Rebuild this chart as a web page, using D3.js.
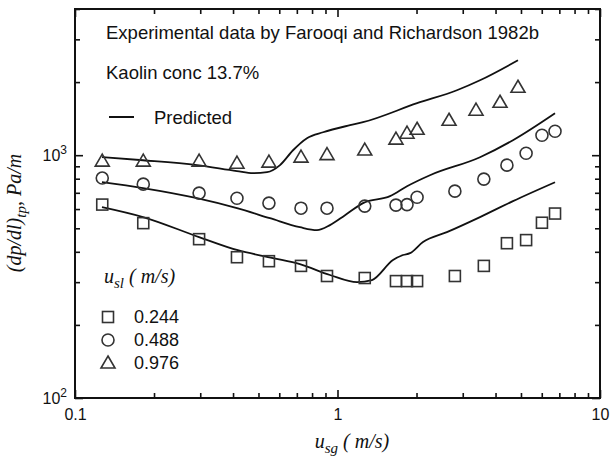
<!DOCTYPE html>
<html><head><meta charset="utf-8">
<script src="https://cdn.jsdelivr.net/npm/d3@7"></script>
<style>body{margin:0;background:#fff}svg{display:block}</style>
</head><body><svg id="c" width="611" height="467"></svg>
<script>
// ---- data (u_sg in m/s, pressure gradient in Pa/m) ----
const sqX = [0.127,0.182,0.297,0.414,0.548,0.726,0.912,1.27,1.67,1.84,2.01,2.80,3.61,4.42,5.23,6.01,6.74];
const sqY = [626,525,451,380,366,350,318,312,303,303,303,318,350,434,447,527,575];
const ciX = [0.127,0.182,0.297,0.414,0.548,0.726,0.912,1.27,1.67,1.84,2.01,2.80,3.61,4.42,5.23,6.01,6.74];
const ciY = [805,760,698,665,635,605,605,617,623,626,671,711,797,910,1019,1208,1255];
const trX = [0.127,0.182,0.297,0.414,0.548,0.726,0.912,1.27,1.67,1.84,2.01,2.66,3.37,4.16,4.87];
const trY = [945,945,945,927,936,982,1005,1050,1164,1232,1279,1393,1532,1652,1905];

const predLowX = [0.1267,0.1816,0.2968,0.417,0.568,0.719,0.936,1.187,1.353,1.627,1.777,1.889,2.117,2.61,3.49,4.66,6.74];
const predLowY = [611,556,460,406,377,356,321,300,306,370,388,395,439,482,556,647,774];
const predMidX = [0.1267,0.1816,0.2915,0.414,0.553,0.719,0.835,0.936,1.068,1.251,1.585,1.84,2.25,3.49,4.66,6.74];
const predMidY = [774,732,665,605,550,505,491,515,566,635,678,745,827,981,1153,1489];
const predTopX = [0.1267,0.1816,0.2915,0.414,0.4766,0.539,0.604,0.677,0.765,0.881,1.116,1.251,2.01,2.85,3.49,4.87];
const predTopY = [981,953,910,860,843,851,910,1048,1175,1243,1329,1367,1637,1851,2035,2460];

const xMajor = [0.1,1,10];
const xMajorLabels = ["0.1","1","10"];
const yMajor = [100,1000];
const yMajorExp = ["2","3"];
const legendLabels = ["0.244","0.488","0.976"];

// ---- drawing ----
const svg = d3.select("#c");
const L = 75, R = 600, T = 9, B = 398;
const x = d3.scaleLog().domain([0.1,10]).range([L,R]);
const y = d3.scaleLog().domain([100,4000]).range([B,T]);

const xMinor = [];
for (let d of [0.1,1]) for (let k=2;k<=9;k++) xMinor.push(d*k);
const yMinor = [];
for (let d of [100,1000]) for (let k=2;k<=9;k++) if (d*k<=4000) yMinor.push(d*k);

const axisStyle = g => { g.select(".domain").remove(); g.selectAll(".tick line").attr("stroke","#111").attr("stroke-width",1.6); };

// bottom
svg.append("g").attr("transform",`translate(0,${B})`)
  .call(d3.axisBottom(x).tickValues(xMajor).tickSize(-8).tickPadding(11).tickFormat((d,i)=>xMajorLabels[i]))
  .call(axisStyle)
  .call(g=>g.selectAll("text").attr("font-family","Liberation Sans, Arial, sans-serif").attr("font-size",16).attr("fill","#111"));
svg.append("g").attr("transform",`translate(0,${B})`)
  .call(d3.axisBottom(x).tickValues(xMinor).tickSize(-5).tickFormat(""))
  .call(axisStyle);
// top
svg.append("g").attr("transform",`translate(0,${T})`)
  .call(d3.axisTop(x).tickValues(xMajor).tickSize(-8).tickFormat(""))
  .call(axisStyle);
svg.append("g").attr("transform",`translate(0,${T})`)
  .call(d3.axisTop(x).tickValues(xMinor).tickSize(-5).tickFormat(""))
  .call(axisStyle);
// left
const leftMajor = svg.append("g").attr("transform",`translate(${L},0)`)
  .call(d3.axisLeft(y).tickValues(yMajor).tickSize(-8).tickPadding(8).tickFormat(()=>"" ))
  .call(axisStyle);
leftMajor.selectAll(".tick text").each(function(d,i){
  const t = d3.select(this).attr("font-family","Liberation Sans, Arial, sans-serif").attr("font-size",16).attr("fill","#111");
  t.append("tspan").text("10");
  t.append("tspan").attr("dy",-7).attr("font-size",12).text(yMajorExp[i]);
});
svg.append("g").attr("transform",`translate(${L},0)`)
  .call(d3.axisLeft(y).tickValues(yMinor).tickSize(-5).tickFormat(""))
  .call(axisStyle);
// right
svg.append("g").attr("transform",`translate(${R},0)`)
  .call(d3.axisRight(y).tickValues(yMajor).tickSize(-8).tickFormat(""))
  .call(axisStyle);
svg.append("g").attr("transform",`translate(${R},0)`)
  .call(d3.axisRight(y).tickValues(yMinor).tickSize(-5).tickFormat(""))
  .call(axisStyle);

// frame
svg.append("rect").attr("x",L).attr("y",T).attr("width",R-L).attr("height",B-T)
  .attr("fill","none").attr("stroke","#111").attr("stroke-width",2);

// predicted curves
const line = d3.line().x(d=>x(d[0])).y(d=>y(d[1])).curveMonotoneX ? null : null;
const mk = d3.line().x(d=>x(d[0])).y(d=>y(d[1])).curve(d3.curveMonotoneX);
[[predLowX,predLowY],[predMidX,predMidY],[predTopX,predTopY]].forEach(([xs,ys])=>{
  svg.append("path").attr("d",mk(xs.map((v,i)=>[v,ys[i]])))
    .attr("fill","none").attr("stroke","#111").attr("stroke-width",1.8);
});

// markers
const mstroke = "#333", msw = 1.6;
function square(g,cx,cy){ g.append("rect").attr("x",cx-5.5).attr("y",cy-5.5).attr("width",11).attr("height",11).attr("fill","none").attr("stroke",mstroke).attr("stroke-width",msw); }
function circle(g,cx,cy){ g.append("circle").attr("cx",cx).attr("cy",cy).attr("r",6).attr("fill","none").attr("stroke",mstroke).attr("stroke-width",msw); }
function tri(g,cx,cy){ g.append("path").attr("d",`M${cx},${cy-7}L${cx+7},${cy+5}L${cx-7},${cy+5}Z`).attr("fill","none").attr("stroke",mstroke).attr("stroke-width",msw); }
const pts = svg.append("g");
sqX.forEach((v,i)=>square(pts,x(v),y(sqY[i])));
ciX.forEach((v,i)=>circle(pts,x(v),y(ciY[i])));
trX.forEach((v,i)=>tri(pts,x(v),y(trY[i])));

// annotations
const sans = "Liberation Sans, Arial, sans-serif";
const serif = "Liberation Serif, Times New Roman, serif";
svg.append("text").attr("x",106).attr("y",39).attr("font-family",sans).attr("font-size",18.5).attr("fill","#111")
  .text("Experimental data by Farooqi and Richardson 1982b");
svg.append("text").attr("x",106).attr("y",79).attr("font-family",sans).attr("font-size",18.5).attr("fill","#111")
  .text("Kaolin conc 13.7%");
svg.append("line").attr("x1",109).attr("x2",134).attr("y1",117).attr("y2",117).attr("stroke","#111").attr("stroke-width",2);
svg.append("text").attr("x",154).attr("y",124).attr("font-family",sans).attr("font-size",18.5).attr("fill","#111")
  .text("Predicted");

// legend
const ul = svg.append("text").attr("x",104).attr("y",283).attr("font-family",serif).attr("font-style","italic").attr("font-size",20).attr("fill","#111");
ul.append("tspan").text("u");
ul.append("tspan").attr("dy",5).attr("font-size",15).text("sl");
ul.append("tspan").attr("dy",-5).text(" ( m/s)");
const legY = [317,340,363];
square(svg,108,legY[0]); circle(svg,108,legY[1]); tri(svg,108,legY[2]);
legendLabels.forEach((t,i)=>svg.append("text").attr("x",134).attr("y",legY[i]+6).attr("font-family",sans).attr("font-size",18).attr("fill","#111").text(t));

// axis titles
const xt = svg.append("text").attr("x",352).attr("y",448).attr("text-anchor","middle").attr("font-family",serif).attr("font-style","italic").attr("font-size",20).attr("fill","#111");
xt.append("tspan").text("u");
xt.append("tspan").attr("dy",5).attr("font-size",15).text("sg");
xt.append("tspan").attr("dy",-5).text(" ( m/s)");

const yt = svg.append("text").attr("transform","translate(21,213) rotate(-90)").attr("text-anchor","middle").attr("font-family",serif).attr("font-style","italic").attr("font-size",20).attr("fill","#111");
yt.append("tspan").text("(dp/dl)");
yt.append("tspan").attr("dy",5).attr("font-size",15).text("tp");
yt.append("tspan").attr("dy",-5).text(", Pa/m");
</script></body></html>
